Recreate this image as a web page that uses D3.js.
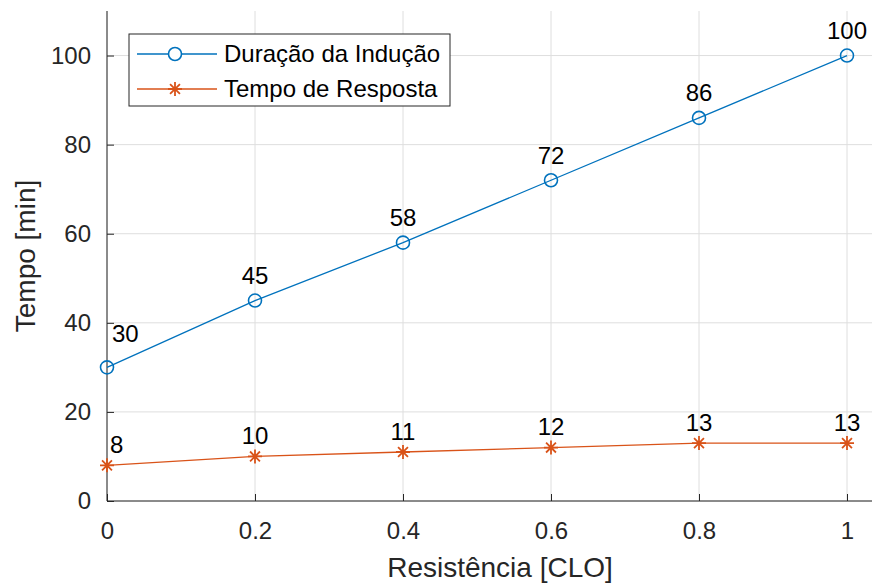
<!DOCTYPE html>
<html>
<head>
<meta charset="utf-8">
<script src="https://cdn.jsdelivr.net/npm/d3@7"></script>
<style>
  body { margin: 0; background: #fff; }
  text { font-family: Arial, "Liberation Sans", sans-serif; }
</style>
</head>
<body>
<svg id="chart" width="872" height="583"></svg>
<script>
var resistencia = [0, 0.2, 0.4, 0.6, 0.8, 1]
var duracaoInducao = [30, 45, 58, 72, 86, 100]
var tempoResposta = [8, 10, 11, 12, 13, 13]
var xTicks = [0, 0.2, 0.4, 0.6, 0.8, 1]
var yTicks = [0, 20, 40, 60, 80, 100]
var seriesNames = ['Duração da Indução', 'Tempo de Resposta']

var colors = ["#0072BD", "#D95319"]
var axisColor = "#262626"

var svg = d3.select("#chart"),
    width = +svg.attr("width"),
    height = +svg.attr("height")

// axes box runs off the right edge of the picture (cropped)
var margin = { top: 11, left: 107, bottom: 82, right: -21 }

var x = d3.scaleLinear()
    .domain([0, 1])
    .range([margin.left, 847])

var y = d3.scaleLinear()
    .domain([0, 110])
    .range([height - margin.bottom, margin.top])

var plotRight = width - margin.right

// grid
svg.append("g").selectAll("line.vg")
    .data(xTicks).enter().append("line")
    .attr("x1", d => x(d)).attr("x2", d => x(d))
    .attr("y1", y(0)).attr("y2", y(110))
    .attr("stroke", "#dedede").attr("stroke-width", 1)

svg.append("g").selectAll("line.hg")
    .data(yTicks).enter().append("line")
    .attr("x1", x(0)).attr("x2", plotRight)
    .attr("y1", d => y(d)).attr("y2", d => y(d))
    .attr("stroke", "#dedede").attr("stroke-width", 1)

// axes
var xAxis = svg.append("g")
    .attr("transform", "translate(0," + y(0) + ")")
    .call(d3.axisBottom(x).tickValues(xTicks).tickFormat(d3.format("~g"))
        .tickSize(-7).tickSizeOuter(0).tickPadding(21))
xAxis.select(".domain").remove()
xAxis.append("line")
    .attr("x1", x(0)).attr("x2", plotRight)
    .attr("stroke", axisColor)

var yAxis = svg.append("g")
    .attr("transform", "translate(" + x(0) + ",0)")
    .call(d3.axisLeft(y).tickValues(yTicks)
        .tickSize(-7).tickSizeOuter(0).tickPadding(16))
yAxis.select(".domain").remove()
yAxis.append("line")
    .attr("y1", y(0)).attr("y2", y(110))
    .attr("stroke", axisColor)

svg.selectAll(".tick line").attr("stroke", axisColor)
svg.selectAll(".tick text")
    .attr("font-size", 24)
    .attr("fill", axisColor)
    .style("font-family", "Arial, 'Liberation Sans', sans-serif")

// axis titles
svg.append("text")
    .attr("x", (x(0) + plotRight) / 2)
    .attr("y", 577)
    .attr("text-anchor", "middle")
    .attr("font-size", 28)
    .attr("fill", axisColor)
    .text("Resistência [CLO]")

svg.append("text")
    .attr("transform", "translate(35," + (y(0) + y(110)) / 2 + ") rotate(-90)")
    .attr("text-anchor", "middle")
    .attr("font-size", 28)
    .attr("fill", axisColor)
    .text("Tempo [min]")

// lines
var line = d3.line()
    .x(d => x(d[0]))
    .y(d => y(d[1]))

var dur = resistencia.map((r, i) => [r, duracaoInducao[i]])
var tr = resistencia.map((r, i) => [r, tempoResposta[i]])

svg.append("path").datum(dur)
    .attr("d", line).attr("fill", "none")
    .attr("stroke", colors[0]).attr("stroke-width", 1.3)

svg.append("path").datum(tr)
    .attr("d", line).attr("fill", "none")
    .attr("stroke", colors[1]).attr("stroke-width", 1.3)

function star(g, cx, cy, r, color) {
    var a = r * Math.SQRT1_2
    var p = "M" + (cx - r) + "," + cy + "H" + (cx + r) +
        "M" + cx + "," + (cy - r) + "V" + (cy + r) +
        "M" + (cx - a) + "," + (cy - a) + "L" + (cx + a) + "," + (cy + a) +
        "M" + (cx - a) + "," + (cy + a) + "L" + (cx + a) + "," + (cy - a)
    g.append("path").attr("d", p).attr("stroke", color)
        .attr("stroke-width", 1.8).attr("fill", "none")
}

svg.append("g").selectAll("circle")
    .data(dur).enter().append("circle")
    .attr("cx", d => x(d[0])).attr("cy", d => y(d[1]))
    .attr("r", 6.5)
    .attr("fill", "none")
    .attr("stroke", colors[0]).attr("stroke-width", 1.6)

var stars = svg.append("g")
tr.forEach(d => star(stars, x(d[0]), y(d[1]), 7, colors[1]))

// value labels
svg.append("g").selectAll("text")
    .data(dur).enter().append("text")
    .attr("x", (d, i) => i === 0 ? x(d[0]) + 5 : x(d[0]))
    .attr("y", (d, i) => y(d[1]) - (i === 0 ? 25 : 16.5))
    .attr("text-anchor", (d, i) => i === 0 ? "start" : "middle")
    .attr("font-size", 24)
    .attr("fill", "#000")
    .text(d => d[1])

svg.append("g").selectAll("text")
    .data(tr).enter().append("text")
    .attr("x", (d, i) => i === 0 ? x(d[0]) + 3 : x(d[0]))
    .attr("y", d => y(d[1]) - 12.5)
    .attr("text-anchor", (d, i) => i === 0 ? "start" : "middle")
    .attr("font-size", 24)
    .attr("fill", "#000")
    .text(d => d[1])

// legend
var legend = svg.append("g")
    .attr("class", "legend")
    .attr("transform", "translate(129,34)")

legend.append("rect")
    .attr("x", 0).attr("y", 0)
    .attr("width", 321).attr("height", 72)
    .attr("fill", "#fff")
    .attr("stroke", axisColor).attr("stroke-width", 1)

seriesNames.forEach(function (name, i) {
    var cy = 20 + i * 35
    legend.append("line")
        .attr("x1", 8).attr("x2", 88)
        .attr("y1", cy).attr("y2", cy)
        .attr("stroke", colors[i]).attr("stroke-width", 1.3)
    if (i === 0) {
        legend.append("circle")
            .attr("cx", 46).attr("cy", cy).attr("r", 6.5)
            .attr("fill", "#fff")
            .attr("stroke", colors[0]).attr("stroke-width", 1.6)
    } else {
        star(legend, 46, cy, 7, colors[1])
    }
    legend.append("text")
        .attr("x", 95).attr("y", cy)
        .attr("dy", "0.35em")
        .attr("font-size", 24)
        .attr("fill", "#000")
        .text(name)
})
</script>
</body>
</html>
